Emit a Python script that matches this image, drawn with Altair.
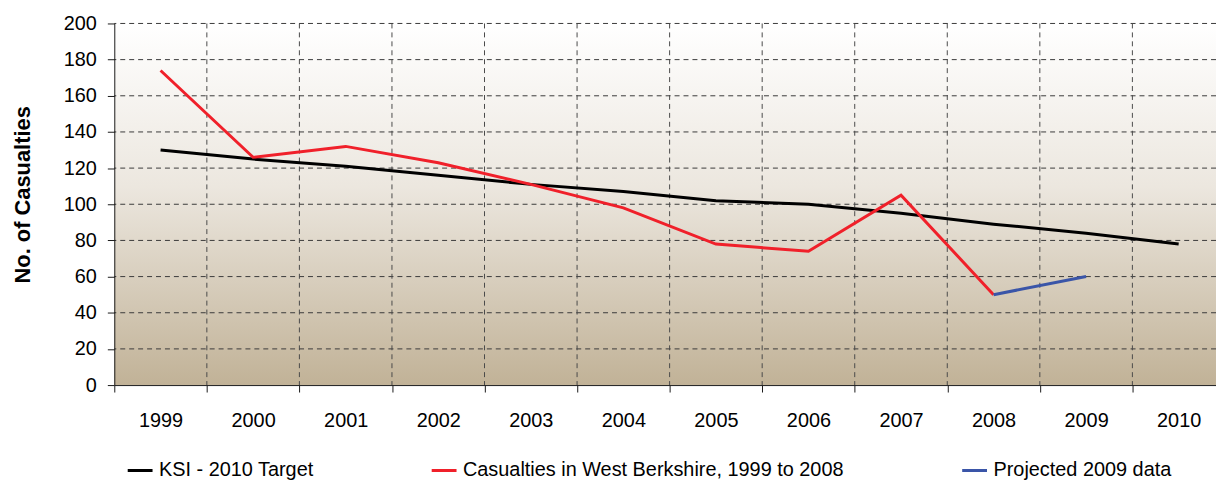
import altair as alt
import pandas as pd

years = ["1999", "2000", "2001", "2002", "2003", "2004", "2005", "2006", "2007", "2008", "2009", "2010"]
ksi_target = [130, 125, 121, 116, 111, 107, 102, 100, 95, 89, 84, 78]
casualty_years = ["1999", "2000", "2001", "2002", "2003", "2004", "2005", "2006", "2007", "2008"]
casualties = [174, 126, 132, 123, 111, 98, 78, 74, 105, 50]
projected_years = ["2008", "2009"]
projected = [50, 60]
y_ticks = [0, 20, 40, 60, 80, 100, 120, 140, 160, 180, 200]

series_names = ["KSI - 2010 Target", "Casualties in West Berkshire, 1999 to 2008", "Projected 2009 data"]
series_colors = ["#000000", "#f0202a", "#3a55a8"]

rows = []
for yr, v in zip(years, ksi_target):
    rows.append({"year": yr, "value": v, "series": series_names[0]})
for yr, v in zip(casualty_years, casualties):
    rows.append({"year": yr, "value": v, "series": series_names[1]})
for yr, v in zip(projected_years, projected):
    rows.append({"year": yr, "value": v, "series": series_names[2]})
df = pd.DataFrame(rows)

FONT = "Liberation Sans"

xscale = alt.Scale(domain=years, range=[0, 1118], paddingInner=0, paddingOuter=0)
yscale = alt.Scale(domain=[0, 200], nice=False)

x_axis = alt.Axis(
    title=None, labelAngle=0, labelAlign="center", labelFlush=False,
    labelFont=FONT, labelFontSize=20, labelColor="#000000",
    labelPadding=19, tickSize=7, tickBand="extent", grid=False,
    domainColor="#1a1a1a", tickColor="#1a1a1a", zindex=1,
)
y_axis = alt.Axis(
    title="No. of Casualties", values=y_ticks, grid=False,
    labelOverlap=False, labelFont=FONT, labelFontSize=20, labelColor="#000000",
    labelPadding=11, tickSize=7, domainColor="#1a1a1a", tickColor="#1a1a1a", zindex=1,
    titleFont=FONT, titleFontSize=22, titleFontWeight="bold", titleColor="#000000",
    titleX=-92, titleY=172, titleAngle=270, titleAlign="center", titleBaseline="middle",
)

bg = alt.Chart(pd.DataFrame({"d": [0]})).mark_rect(
    fill=alt.LinearGradient(
        gradient="linear",
        stops=[
            alt.GradientStop(color="#ffffff", offset=0),
            alt.GradientStop(color="#ece7df", offset=0.45),
            alt.GradientStop(color="#c1b297", offset=1),
        ],
        x1=0, x2=0, y1=0, y2=1,
    )
).encode(x=alt.value(0), x2=alt.value("width"), y=alt.value(0), y2=alt.value("height"))

hgrid = alt.Chart(pd.DataFrame({"value": y_ticks[1:]})).mark_rule(
    color="#3a3a3a", strokeDash=[5, 4], strokeWidth=1
).encode(y=alt.Y("value:Q", scale=yscale, axis=y_axis))

vgrid = alt.Chart(pd.DataFrame({"year": years[1:]})).mark_rule(
    color="#4a4a4a", strokeDash=[5, 4], strokeWidth=1
).encode(x=alt.X("year:N", scale=xscale, bandPosition=0, axis=x_axis))

lines = alt.Chart(df).mark_line(strokeWidth=3).encode(
    x=alt.X("year:N", scale=xscale, axis=x_axis),
    y=alt.Y("value:Q", scale=yscale, axis=y_axis),
    color=alt.Color(
        "series:N",
        scale=alt.Scale(domain=series_names, range=series_colors),
        legend=alt.Legend(
            title=None, orient="none", legendX=12, legendY=436, direction="horizontal",
            symbolType="stroke", symbolSize=625, symbolStrokeWidth=3, labelOffset=5,
            labelFont=FONT, labelFontSize=20, labelColor="#000000", columnPadding=112,
            padding=0, labelLimit=600,
        ),
    ),
    detail="series:N",
)

chart = alt.layer(bg, hgrid, vgrid, lines).properties(
    width=1109,
    height=364,
    autosize=alt.AutoSizeParams(type="none"),
    padding={"left": 107, "top": 14, "right": 0, "bottom": 94},
).configure_view(stroke=None)

chart.save("out.html", embed_options={"renderer": "svg", "actions": False})
